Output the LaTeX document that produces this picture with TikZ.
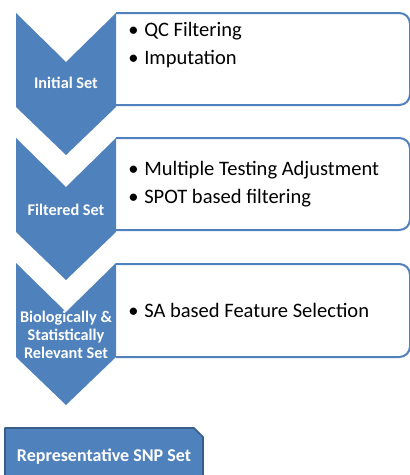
\documentclass[tikz,border=0pt]{standalone}
\usepackage{fontspec}
\setmainfont{Carlito}
\usetikzlibrary{calc}

\definecolor{setblue}{HTML}{4F81BD}
\definecolor{setdark}{HTML}{385D8A}

\newcommand{\bul}[1]{\makebox[12pt][l]{\textbullet}#1}

\tikzset{
  chevron/.style={fill=setblue},
  stepframe/.style={draw=setblue, line width=1.5pt, rounded corners=8pt},
  chevlabel/.style={text=white, font=\bfseries\fontsize{12.2}{13.5}\selectfont, align=center, inner sep=0pt},
  itemlabel/.style={anchor=west, align=left, inner sep=0pt, font=\fontsize{15.4}{21}\selectfont},
}

\begin{document}
\begin{tikzpicture}[line join=round,x=0.75pt,y=-0.75pt]
\useasboundingbox (0,0) rectangle (410,475);

% frames to the right of each chevron
\draw[stepframe] (116,13) -- (410,13) -- (410,105) -- (116,105);
\draw[stepframe] (116,138) -- (410,138) -- (410,230) -- (116,230);
\draw[stepframe] (116,264) -- (410,264) -- (410,357) -- (116,357);

% chevrons
\fill[chevron] (16,13) -- (66,62) -- (116,13) -- (116,107) -- (66,155) -- (16,107) -- cycle;
\fill[chevron] (16,138) -- (66,187) -- (116,138) -- (116,232) -- (66,280) -- (16,232) -- cycle;
\fill[chevron] (16,263) -- (66,312) -- (116,263) -- (116,357) -- (66,405) -- (16,357) -- cycle;

\node[chevlabel] (initial) at (66,83) {Initial Set};
\node[chevlabel] (filtered) at (66,210) {Filtered Set};
\node[chevlabel] (relevant) at (66,335) {Biologically \&\\Statistically\\Relevant Set};

\node[itemlabel] (qc) at (128,45) {\bul{QC Filtering}\\\bul{Imputation}};
\node[itemlabel] (mta) at (128,184) {\bul{Multiple Testing Adjustment}\\\bul{SPOT based filtering}};
\node[itemlabel] (sa) at (128,310) {\bul{SA based Feature Selection}};

% final set
\filldraw[fill=setblue, draw=setdark, line width=1.2pt] (5,428) -- (194,428) -- (203,437) -- (203,480) -- (5,480) -- cycle;
\node[chevlabel, font=\bfseries\fontsize{13.5}{15}\selectfont] (snp) at (104,457) {Representative SNP Set};

\end{tikzpicture}
\end{document}
